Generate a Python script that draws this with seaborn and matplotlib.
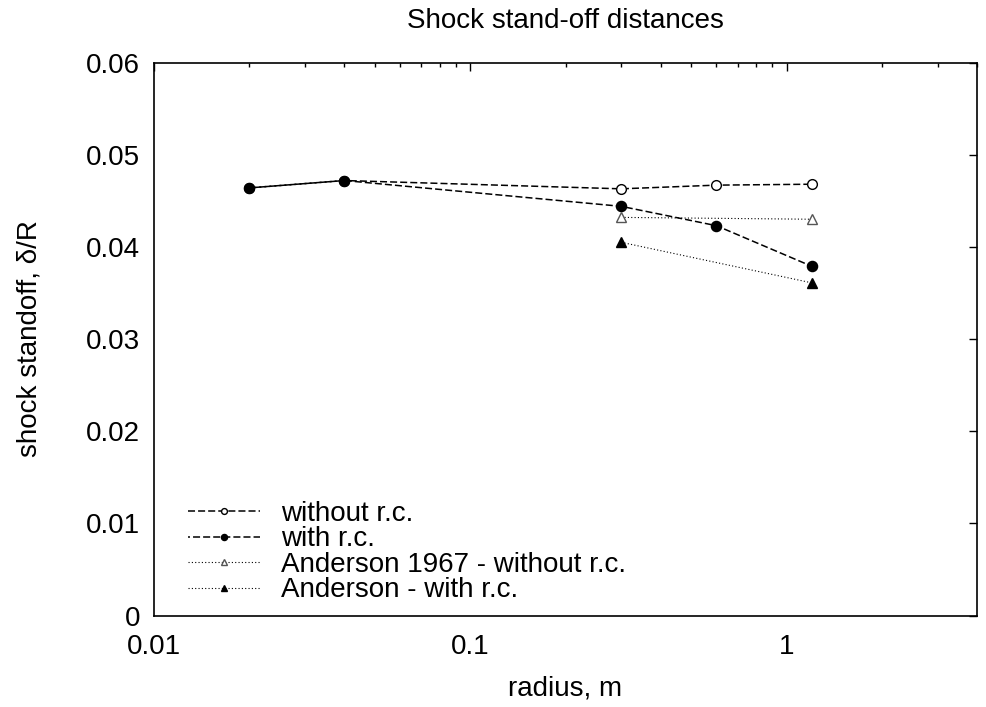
import seaborn as sns
import matplotlib.pyplot as plt
import matplotlib.ticker as mticker
import pandas as pd

sns.set_theme(style="white")
plt.rcParams['font.family'] = ['Liberation Sans', 'DejaVu Sans']
plt.rcParams['text.color'] = 'black'
plt.rcParams['axes.labelcolor'] = 'black'
plt.rcParams['xtick.color'] = 'black'
plt.rcParams['ytick.color'] = 'black'

# =====================
# DATA
# =====================
radius_rc = [0.02, 0.04, 0.3, 0.6, 1.2]
without_rc = [0.0464, 0.0472, 0.0463, 0.0467, 0.0468]
with_rc = [0.0464, 0.0472, 0.0444, 0.0423, 0.0379]

radius_anderson = [0.3, 1.2]
anderson_without = [0.0432, 0.0430]
anderson_with = [0.0405, 0.0361]

x_ticks = [0.01, 0.1, 1]
x_tick_labels = ['0.01', '0.1', '1']
y_ticks = [0, 0.01, 0.02, 0.03, 0.04, 0.05, 0.06]

df_rc = pd.DataFrame({'radius': radius_rc, 'without': without_rc, 'with': with_rc})
df_and = pd.DataFrame({'radius': radius_anderson, 'without': anderson_without,
                       'with': anderson_with})

fig, ax = plt.subplots(figsize=(9.86, 7.07), dpi=100)
fig.subplots_adjust(left=0.1562, right=0.9909, top=0.9115, bottom=0.1294)

dash = (4.6, 2.0)
sns.lineplot(data=df_rc, x='radius', y='without', ax=ax, color='black',
             linewidth=1.1, dashes=False, linestyle=(0, dash),
             marker='o', markersize=7, markerfacecolor='white',
             markeredgecolor='black', markeredgewidth=1.0, label='without r.c.')
# offset dashes so the shared first segment reads as a solid line
sns.lineplot(data=df_rc, x='radius', y='with', ax=ax, color='black',
             linewidth=1.1, dashes=False, linestyle=(3.3, dash),
             marker='o', markersize=7.3, markerfacecolor='black',
             markeredgecolor='black', markeredgewidth=1.0, label='with r.c.')
sns.lineplot(data=df_and, x='radius', y='without', ax=ax, color='black',
             linewidth=0.8, dashes=False, linestyle=(0, (1, 2)),
             marker='^', markersize=6.5, markerfacecolor='white',
             markeredgecolor='#555555', markeredgewidth=1.0,
             label='Anderson 1967 - without r.c.')
sns.lineplot(data=df_and, x='radius', y='with', ax=ax, color='black',
             linewidth=0.8, dashes=False, linestyle=(0, (1, 2)),
             marker='^', markersize=6.5, markerfacecolor='black',
             markeredgecolor='black', markeredgewidth=1.0,
             label='Anderson - with r.c.')

ax.set_xscale('log')
ax.set_xlim(0.01, 4)
ax.set_ylim(0, 0.06)
ax.set_xticks(x_ticks)
ax.set_xticklabels(x_tick_labels)
ax.xaxis.set_minor_locator(mticker.LogLocator(base=10, subs=range(2, 10)))
ax.xaxis.set_minor_formatter(mticker.NullFormatter())
ax.set_yticks(y_ticks)
ax.yaxis.set_major_formatter(mticker.FuncFormatter(lambda v, _: '0' if v == 0 else f'{v:.2f}'))

ax.tick_params(which='both', direction='in', top=True, right=True, labelsize=20)
ax.tick_params(which='major', length=6, width=1.0)
ax.tick_params(axis='x', which='major', pad=13)
ax.tick_params(axis='y', which='major', pad=10)
ax.tick_params(which='minor', length=3, width=1.0)
for s in ax.spines.values():
    s.set_color('black')
    s.set_linewidth(1.2)

ax.set_title('Shock stand-off distances', fontsize=20, pad=25)
ax.set_xlabel('radius, m', fontsize=20, labelpad=11.5)
ax.set_ylabel('shock standoff, δ/R', fontsize=20, labelpad=31)

ax.legend(loc='lower left', bbox_to_anchor=(0.041, 0.022), frameon=False,
          fontsize=20, handlelength=2.6, handletextpad=0.77, labelspacing=-0.02,
          borderpad=0, borderaxespad=0, markerscale=0.6)

plt.savefig('out.png', dpi=100)
